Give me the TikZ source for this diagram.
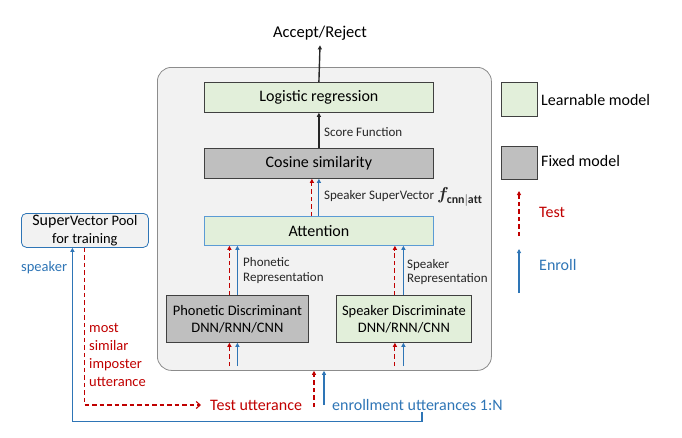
\documentclass[tikz,border=0pt]{standalone}
\usepackage{fontspec}
\usepackage{bm}
\setmainfont{Carlito}
\usetikzlibrary{arrows.meta,calc}
\definecolor{tred}{HTML}{C00000}
\definecolor{eblue}{HTML}{2E75B6}
\definecolor{lblue}{HTML}{5B9BD5}
\definecolor{lgreen}{HTML}{E2EFDA}
\definecolor{fgray}{HTML}{BFBFBF}
\definecolor{bgray}{HTML}{F2F2F2}
\definecolor{edge}{HTML}{404040}
\tikzset{
  box/.style={draw=edge, line width=0.8pt, inner sep=0pt, anchor=north west, align=center, font=\fontsize{16}{19}\selectfont},
  learn/.style={box, fill=lgreen},
  fixed/.style={box, fill=fgray},
  lbl/.style={inner sep=0pt, anchor=west, align=left, font=\fontsize{13}{15}\selectfont, text=black!85},
  big/.style={inner sep=0pt, anchor=west, font=\fontsize{16}{19}\selectfont},
  tst/.style={draw=tred, line width=1.1pt, dash pattern=on 4.5pt off 3pt, -{Triangle[length=4pt,width=4pt]}},
  enr/.style={draw=eblue, line width=1.1pt, -{Triangle[length=4pt,width=4pt]}},
  blk/.style={draw=black!85, line width=1.4pt, -{Triangle[length=4pt,width=4pt]}}
}
\begin{document}
\begin{tikzpicture}[x=1pt,y=-1pt]
\useasboundingbox (0,0) rectangle (682,437);
% main frame
\node[draw=black!45, fill=bgray, line width=0.8pt, rounded corners=14pt, minimum width=334pt, minimum height=303pt, inner sep=0pt, anchor=north west] (main) at (157,67) {};
% top output
\node[inner sep=0pt, font=\fontsize{16.5}{19}\selectfont] (accept) at (320,33) {Accept/Reject};
% blocks
\node[learn, minimum width=229pt, minimum height=30pt] (logit) at (204,82) {Logistic regression};
\node[fixed, minimum width=229pt, minimum height=30pt] (cos) at (204,148) {Cosine similarity};
\node[box, draw=lblue, fill=lgreen, minimum width=229pt, minimum height=29pt] (att) at (204,216) {Attention};
\node[fixed, minimum width=142pt, minimum height=47pt, font=\fontsize{14.5}{17}\selectfont] (phon) at (166,295) {Phonetic Discriminant\\DNN/RNN/CNN};
\node[learn, minimum width=135pt, minimum height=47pt, font=\fontsize{14.5}{17}\selectfont] (spk) at (336,295) {Speaker Discriminate\\DNN/RNN/CNN};
\node[box, draw=eblue, fill=bgray, rounded corners=5pt, minimum width=127pt, minimum height=34pt, font=\fontsize{14.5}{18}\selectfont] (pool) at (21,213) {{\fontsize{16}{18}\selectfont Super}Vector Pool\\for training};
% legend
\node[learn, minimum width=36pt, minimum height=34pt] (lgl) at (501,82) {};
\node[fixed, minimum width=36pt, minimum height=33pt] (lgf) at (501,146) {};
\node[big] (lglt) at (541,100) {Learnable model};
\node[big] (lgft) at (541,161) {Fixed model};
\coordinate (lt0) at (519,236);
\coordinate (lt1) at (519,191);
\coordinate (le0) at (519,293);
\coordinate (le1) at (519,249);
\draw[tst] (lt0) -- (lt1);
\draw[enr] (le0) -- (le1);
\node[big, text=tred] (lgtt) at (539,212) {Test};
\node[big, text=eblue] (lget) at (539,265) {Enroll};
% labels
\node[lbl] (sf) at (324,132) {Score Function};
\node[lbl] (sv) at (324,197) {Speaker SuperVector {\fontsize{17}{19}\selectfont$\bm{f}_{\mathbf{cnn|att}}$}};
\node[lbl] (pr) at (243,270.5) {Phonetic\\[-0.5pt]Representation};
\node[lbl] (sr) at (407,272) {Speaker\\[-0.5pt]Representation};
\node[big, text=tred] (tu) at (210,405) {Test utterance};
\node[big, text=eblue] (eu) at (332,405) {enrollment utterances 1:N};
\node[inner sep=0pt, anchor=west, font=\fontsize{14.5}{17}\selectfont, text=eblue] (spkl) at (21,268) {speaker};
\node[inner sep=0pt, anchor=west, align=left, font=\fontsize{14.5}{18}\selectfont, text=tred] (imp) at (89,355) {most\\similar\\imposter\\utterance};
% top arrows
\draw[blk] (logit.north) -- ([yshift=-5pt]accept.south);
\draw[blk] (cos.north) -- (logit.south);
\draw[tst] ([xshift=-7pt]att.north) -- ([xshift=-7pt]att.north |- cos.south);
\draw[enr] (att.north) -- (att.north |- cos.south);
% into attention
\draw[tst] ([xshift=-8pt]phon.north) -- ([xshift=-8pt]phon.north |- att.south);
\draw[enr] (phon.north) -- (phon.north |- att.south);
\draw[tst] ([xshift=-9pt]spk.north) -- ([xshift=-9pt]spk.north |- att.south);
\draw[enr] ([xshift=-0.5pt]spk.north) -- ([xshift=-0.5pt]spk.north |- att.south);
% into discriminators
\coordinate (base) at (0,366);
\draw[tst] ([xshift=-8pt]phon.south |- base) -- ([xshift=-8pt]phon.south);
\draw[enr] (phon.south |- base) -- (phon.south);
\draw[tst] ([xshift=-9pt]spk.south |- base) -- ([xshift=-9pt]spk.south);
\draw[enr] ([xshift=-0.5pt]spk.south |- base) -- ([xshift=-0.5pt]spk.south);
% into main frame
\coordinate (inr) at (314,407);
\coordinate (inb) at (324,405);
\draw[tst] (inr) -- (inr |- main.south);
\draw[enr] (inb) -- (inb |- main.south);
% pool connections
\draw[draw=tred, line width=1.1pt, dash pattern=on 4.5pt off 3pt, -{Straight Barb[length=4pt,width=7pt]}, shorten >=9pt] ([xshift=-0.5pt]pool.south) |- (tu.west);
\draw[enr] ([yshift=-1pt]eu.south -| 422,0) -- ++(0,10) -| ([xshift=-12.5pt]pool.south);
\end{tikzpicture}
\end{document}
